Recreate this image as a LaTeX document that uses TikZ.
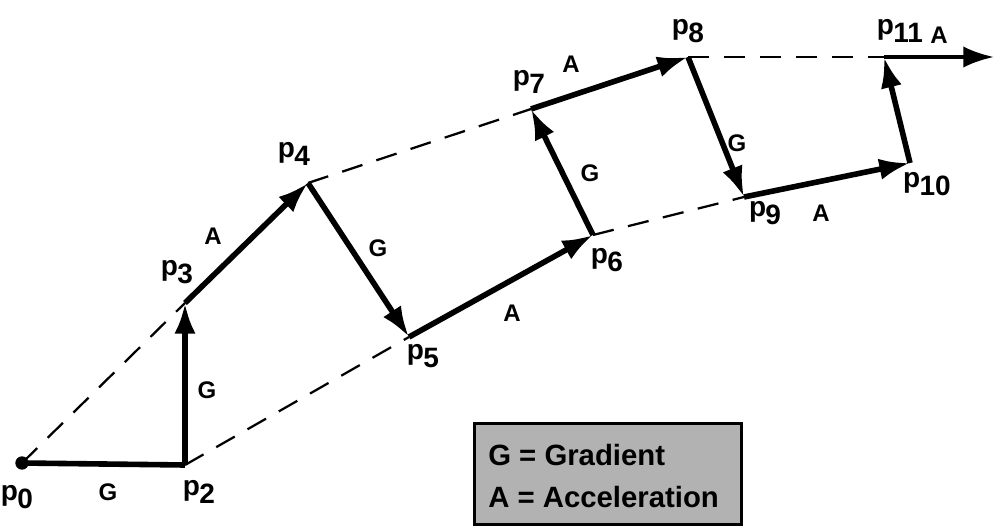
\documentclass[tikz,border=0pt]{standalone}
\usepackage{fontspec}
\setmainfont{Liberation Sans}
\usetikzlibrary{arrows.meta}
\newcommand\pl[1]{p\kern-0.5pt\raisebox{-0.55ex}{#1}}
\begin{document}
\begin{tikzpicture}[x=0.75pt,y=-0.75pt,
  vec/.style={line width=4.2pt,-{Latex[length=23pt,width=16pt]}},
  seg/.style={line width=4.2pt},
  guide/.style={line width=1.7pt,dash pattern=on 16pt off 11pt},
  lbl/.style={font=\fontsize{21}{21}\selectfont\bfseries,inner sep=1pt},
  tag/.style={font=\fontsize{18}{18}\selectfont\bfseries,inner sep=1pt},
  keytext/.style={font=\fontsize{22}{22}\selectfont\bfseries,anchor=west,inner sep=0pt},
  legend/.style={draw,line width=2.5pt,fill=black!30,minimum width=200pt,minimum height=76pt,inner sep=0pt}]
\useasboundingbox (0,0) rectangle (1001,529);
\coordinate (p0) at (22,463);
\coordinate (p2) at (185,465);
\coordinate (p3) at (185,303);
\coordinate (p4) at (308,183);
\coordinate (p5) at (409,337);
\coordinate (p6) at (593,235);
\coordinate (p7) at (531,109);
\coordinate (p8) at (688,57);
\coordinate (p9) at (744,197);
\coordinate (p10) at (910,163);
\coordinate (p11) at (884,57);
\coordinate (e) at (994,57);
% guides
\draw[guide] (p0) -- (p3);
\draw[guide] (p2) -- (p5);
\draw[guide] (p4) -- (p7);
\draw[guide] (p6) -- (p9);
\draw[guide] (p8) -- (p11);
% vectors
\fill (p0) circle (5pt);
\draw[seg] (p0) -- (p2);
\draw[vec] (p2) -- (p3);
\draw[vec] (p3) -- (p4);
\draw[vec] (p4) -- (p5);
\draw[vec] (p5) -- (p6);
\draw[vec] (p6) -- (p7);
\draw[vec] (p7) -- (p8);
\draw[vec] (p8) -- (p9);
\draw[vec] (p9) -- (p10);
\draw[vec] (p10) -- (p11);
\draw[line width=3pt,-{Latex[length=23pt,width=16pt]}] (p11) -- (e);
% point labels
\node[lbl] (l0) at (17,497) {\pl{0}};
\node[lbl] (l2) at (199,492) {\pl{2}};
\node[lbl] (l3) at (177,272) {\pl{3}};
\node[lbl] (l4) at (294,154) {\pl{4}};
\node[lbl] (l5) at (423,356) {\pl{5}};
\node[lbl] (l6) at (607,260) {\pl{6}};
\node[lbl] (l7) at (529,82) {\pl{7}};
\node[lbl] (l8) at (688,31) {\pl{8}};
\node[lbl] (l9) at (765,213) {\pl{9}};
\node[lbl] (l10) at (927,184) {\pl{10}};
\node[lbl] (l11) at (900,31) {\pl{11}};
% vector labels
\node[tag] (t1) at (108,492) {G};
\node[tag] (t2) at (207,390) {G};
\node[tag] (t3) at (213,236) {A};
\node[tag] (t4) at (378,248) {G};
\node[tag] (t5) at (512,313) {A};
\node[tag] (t6) at (590,173) {G};
\node[tag] (t7) at (571,64) {A};
\node[tag] (t8) at (737,143) {G};
\node[tag] (t9) at (821,213) {A};
\node[tag] (t10) at (939,35) {A};
% legend
\node[legend] (key) at (608,474) {};
\node[keytext] (kg) at (488,455) {G = Gradient};
\node[keytext] (ka) at (488,497) {A = Acceleration};
\end{tikzpicture}
\end{document}
